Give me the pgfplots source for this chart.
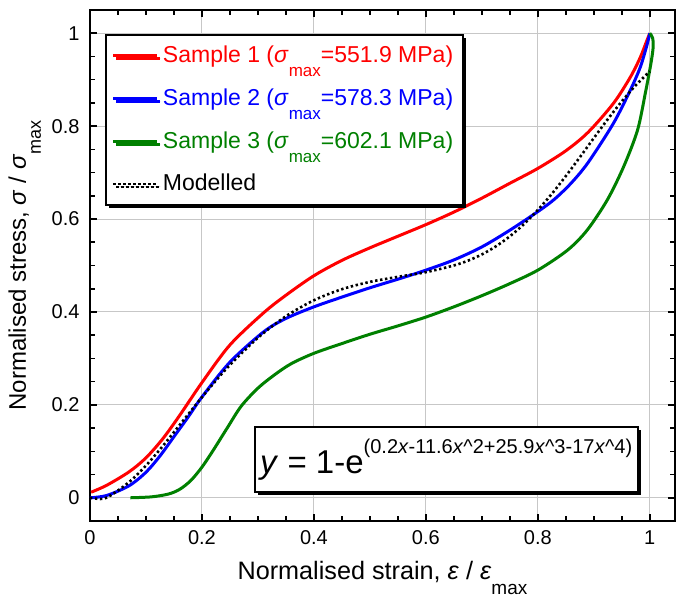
\documentclass[border=0pt]{standalone}
\usepackage{fontspec}
\setmainfont{Liberation Sans}
\usepackage{pgfplots}
\pgfplotsset{compat=1.18}
\usetikzlibrary{shadows}
\definecolor{ored}{RGB}{255,0,0}
\definecolor{oblue}{RGB}{0,0,255}
\definecolor{ogreen}{RGB}{0,128,0}
\newcommand{\lowsub}[2]{\raisebox{-#1}{\fontsize{#2}{#2}\selectfont max}}
\begin{document}
\begin{tikzpicture}
\useasboundingbox (-45pt,-37.5pt) rectangle (293pt,260.5pt);
\begin{axis}[
  at={(0pt,0pt)}, anchor=south west,
  scale only axis, width=292.5pt, height=255.5pt,
  xmin=0, xmax=1.045, ymin=-0.05, ymax=1.05,
  xtick={0,0.2,0.4,0.6,0.8,1}, ytick={0,0.2,0.4,0.6,0.8,1},
  minor x tick num=3, minor y tick num=3,
  grid=major, major grid style={black!22, line width=0.5pt},
  axis line style={line width=1.2pt},
  every tick/.style={black, line width=0.8pt},
  major tick length=3.5pt, minor tick length=2.3pt,
  tick label style={font=\fontsize{10}{12}\selectfont},
  /pgf/number format/assume math mode=true,
  xticklabel style={yshift=-1.2pt},
  yticklabel style={xshift=-1.7pt},
  xlabel={Normalised strain, \textit{ε} / \textit{ε}\lowsub{7.5pt}{9.5pt}},
  ylabel={Normalised stress, \textit{σ} / \textit{σ}\lowsub{7.5pt}{9pt}},
  xlabel style={font=\fontsize{12.6}{14}\selectfont, at={(axis description cs:0.5,-0.078)}, anchor=north, inner sep=0pt},
  ylabel style={font=\fontsize{12}{14}\selectfont, at={(axis description cs:-0.140,0.5)}, anchor=north, inner sep=0pt},
  legend style={at={(axis description cs:0.0256,0.953)}, anchor=north west,
    draw=black, line width=1pt, fill=white,
    font=\fontsize{11.5}{13}\selectfont,
    general shadow={fill=black, shadow xshift=1.5pt, shadow yshift=-1.5pt},
    row sep=7.5pt, inner xsep=3pt, inner ysep=3.5pt},
  legend cell align=left,
  legend image code/.code={\draw[#1] (0pt,0pt) -- (22pt,0pt);},
]
\addplot[ored, line width=1.5pt, smooth] coordinates {
(0.002,0.012) (0.03,0.027) (0.07,0.056) (0.1,0.086) (0.13,0.127) (0.16,0.177)
(0.2,0.248) (0.25,0.329) (0.31,0.398) (0.35,0.436) (0.4,0.478)
(0.45,0.511) (0.5,0.538) (0.55,0.563) (0.6,0.588) (0.65,0.615) (0.7,0.645)
(0.75,0.677) (0.8,0.709) (0.85,0.747) (0.89,0.787) (0.935,0.849) (0.965,0.905)
(0.983,0.948) (0.995,0.985) (1.0,1.0)};
\addlegendentry{\textcolor{ored}{Sample 1 (\textit{σ}\lowsub{7pt}{8.5pt}=551.9 MPa)}}
\addplot[oblue, line width=1.5pt, smooth] coordinates {
(0,0) (0.03,0.005) (0.07,0.026) (0.1,0.055) (0.125,0.090) (0.152,0.135)
(0.176,0.175) (0.2,0.217) (0.25,0.292) (0.31,0.357) (0.35,0.386) (0.4,0.411)
(0.45,0.432) (0.5,0.452) (0.554,0.472) (0.6,0.490) (0.65,0.512) (0.7,0.540)
(0.75,0.576) (0.8,0.616) (0.83,0.643) (0.86,0.678) (0.89,0.722) (0.935,0.806)
(0.965,0.877) (0.983,0.927) (0.995,0.975) (1.0,1.0)};
\addlegendentry{\textcolor{oblue}{Sample 2 (\textit{σ}\lowsub{7pt}{8.5pt}=578.3 MPa)}}
\addplot[ogreen, line width=1.5pt, smooth] coordinates {
(0.072,0.0) (0.11,0.002) (0.14,0.008) (0.16,0.018) (0.18,0.037) (0.2,0.066)
(0.22,0.102) (0.245,0.150) (0.27,0.197) (0.3,0.236) (0.33,0.265) (0.36,0.289)
(0.4,0.311) (0.45,0.332) (0.5,0.352) (0.55,0.370) (0.6,0.389) (0.65,0.411)
(0.7,0.435) (0.75,0.461) (0.8,0.490) (0.853,0.533) (0.888,0.576)
(0.924,0.641) (0.953,0.712) (0.978,0.791) (0.992,0.871) (1.002,0.935)
(1.006,0.970) (1.005,0.990) (1.0,1.0)};
\addlegendentry{\textcolor{ogreen}{Sample 3 (\textit{σ}\lowsub{7pt}{8.5pt}=602.1 MPa)}}
\addplot[black, line width=1.3pt, dash pattern=on 1.2pt off 1.3pt, smooth] coordinates {
(0,0) (0.025,-0.002) (0.05,0.0157) (0.075,0.0391) (0.1,0.0693) (0.125,0.1040)
(0.15,0.1412) (0.175,0.1791) (0.2,0.2165) (0.225,0.2524) (0.25,0.2859)
(0.3,0.3445) (0.35,0.3908) (0.4,0.4251) (0.45,0.4490) (0.5,0.4647)
(0.55,0.4756) (0.6,0.4856) (0.65,0.5001) (0.675,0.5103) (0.7,0.5238)
(0.725,0.5412) (0.75,0.5628) (0.775,0.5889) (0.8,0.6196) (0.825,0.6543)
(0.85,0.6926) (0.875,0.7330) (0.9,0.7743) (0.925,0.8150) (0.95,0.8533)
(0.975,0.8880) (1.0,0.9179)};
\addlegendentry{Modelled}
\node[draw=black, line width=1pt, fill=white,
  general shadow={fill=black, shadow xshift=1.5pt, shadow yshift=-1.5pt},
  minimum width=191.5pt, minimum height=32.5pt, inner sep=0pt]
  at (axis description cs:0.609,0.120)
  {\fontsize{16.5}{16}\selectfont\textit{y} = 1-e\raisebox{10pt}{\fontsize{10}{10}\selectfont(0.2\textit{x}-11.6\textit{x}\textasciicircum2+25.9\textit{x}\textasciicircum3-17\textit{x}\textasciicircum4)}};
\end{axis}
\end{tikzpicture}
\end{document}
